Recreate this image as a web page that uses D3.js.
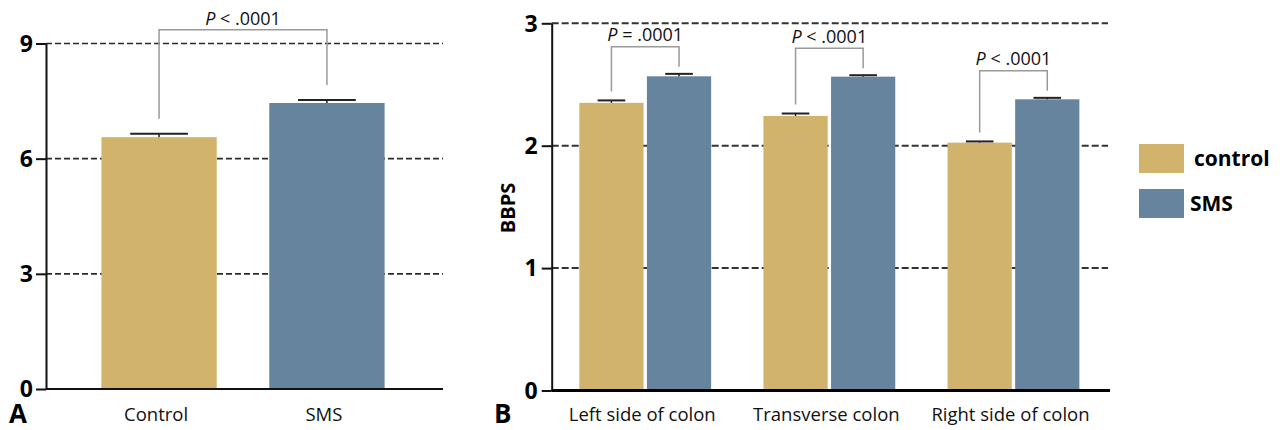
<!DOCTYPE html>
<html>
<head>
<meta charset="utf-8">
<script src="https://cdn.jsdelivr.net/npm/d3@7"></script>
<style>
  html, body { margin: 0; padding: 0; background: #fff; }
  svg { display: block; }
  text { font-family: "Open Sans", "Noto Sans", sans-serif; }
</style>
</head>
<body>
<svg id="chart" width="1280" height="430"></svg>
<script>
// ---------- data ----------
const catsA = ["Control", "SMS"];
const meansA = [6.56, 7.45];
const errA = [0.09, 0.08];
const ticksA = [0, 3, 6, 9];
const pLabelA = "P < .0001";

const catsB = ["Left side of colon", "Transverse colon", "Right side of colon"];
const seriesB = ["control", "SMS"];
const controlB = [2.35, 2.243, 2.025];
const smsB = [2.567, 2.564, 2.379];
const controlErrB = [0.02, 0.02, 0.01];
const smsErrB = [0.02, 0.012, 0.012];
const ticksB = [0, 1, 2, 3];
const pLabelsB = ["P = .0001", "P < .0001", "P < .0001"];

const colors = { control: "#d2b36c", SMS: "#67849f" };

const svg = d3.select("#chart");

function pText(sel, label, x, y) {
  const t = sel.append("text").attr("x", x).attr("y", y)
    .attr("text-anchor", "middle").attr("font-size", 18).attr("fill", "#111");
  const parts = label.split(" ");
  t.append("tspan").attr("font-style", "italic").text(parts[0]);
  t.append("tspan").text(" " + parts.slice(1).join(" "));
}

function styleAxis(ax) {
  ax.select(".domain").attr("stroke", "#111").attr("stroke-width", 2);
  ax.selectAll(".tick line").attr("stroke", "#111").attr("stroke-width", 2);
  ax.selectAll(".tick text").attr("font-size", 23).attr("font-weight", "bold").attr("fill", "#000")
    .attr("font-family", "'Open Sans', sans-serif").attr("dy", "0.34em");
}

// ================= Panel A =================
{
  const g = svg.append("g");
  const y = d3.scaleLinear().domain([0, 9]).range([389, 43.5]);
  const x = d3.scaleBand().domain(catsA).range([46, 440]).paddingInner(0.313).paddingOuter(0.33);
  const xL = 46, xR = 443;

  g.selectAll(".grid").data(ticksA.filter(d => d > 0)).join("line")
    .attr("x1", xL).attr("x2", xR).attr("y1", d => y(d)).attr("y2", d => y(d))
    .attr("stroke", "#2a2a2a").attr("stroke-width", 1.6).attr("stroke-dasharray", "6,3");

  const cols = [colors.control, colors.SMS];
  g.selectAll(".bar").data(catsA).join("rect")
    .attr("x", d => x(d)).attr("width", x.bandwidth())
    .attr("y", (d, i) => y(meansA[i])).attr("height", (d, i) => y(0) - y(meansA[i]))
    .attr("fill", (d, i) => cols[i]);

  const capW = x.bandwidth() * 0.5;
  catsA.forEach((c, i) => {
    const cx = x(c) + x.bandwidth() / 2;
    g.append("line").attr("x1", cx).attr("x2", cx).attr("y1", y(meansA[i])).attr("y2", y(meansA[i] + errA[i]))
      .attr("stroke", "#222").attr("stroke-width", 1.5);
    g.append("line").attr("x1", cx - capW / 2).attr("x2", cx + capW / 2)
      .attr("y1", y(meansA[i] + errA[i])).attr("y2", y(meansA[i] + errA[i]))
      .attr("stroke", "#222").attr("stroke-width", 2);
  });

  const ax = g.append("g").attr("transform", `translate(${xL},0)`)
    .call(d3.axisLeft(y).tickValues(ticksA).tickFormat(d3.format("d")).tickSize(10).tickSizeOuter(0).tickPadding(3));
  styleAxis(ax);

  g.append("line").attr("x1", xL).attr("x2", xR).attr("y1", y(0)).attr("y2", y(0))
    .attr("stroke", "#111").attr("stroke-width", 2);

  g.selectAll(".cat").data(catsA).join("text")
    .attr("x", d => x(d) + x.bandwidth() / 2 - 3).attr("y", 421)
    .attr("text-anchor", "middle").attr("font-size", 18.5).attr("fill", "#111").text(d => d);

  const x1 = x(catsA[0]) + x.bandwidth() / 2, x2 = x(catsA[1]) + x.bandwidth() / 2;
  const topY = 29.7;
  const leg1 = y(meansA[0] + errA[0]) - 15, leg2 = y(meansA[1] + errA[1]) - 15;
  g.append("path").attr("d", `M${x1},${leg1}V${topY}H${x2}V${leg2}`)
    .attr("fill", "none").attr("stroke", "#9a9a9a").attr("stroke-width", 1.5);
  pText(g, pLabelA, (x1 + x2) / 2, 25);

  g.append("text").attr("x", 9).attr("y", 423).attr("font-size", 26).attr("font-weight", "bold")
    .attr("font-family", "'Liberation Sans', Arial, sans-serif").attr("fill", "#000").text("A");
}

// ================= Panel B =================
{
  const g = svg.append("g");
  const y = d3.scaleLinear().domain([0, 3]).range([390.5, 23.3]);
  const x0 = d3.scaleBand().domain(catsB).range([551.7, 1107]).paddingInner(0.284).paddingOuter(0.15);
  const x1 = d3.scaleBand().domain(seriesB).range([0, x0.bandwidth()]).paddingInner(0.05);
  const xL = 551.7, xR = 1108;

  g.selectAll(".grid").data(ticksB.filter(d => d > 0)).join("line")
    .attr("x1", xL).attr("x2", xR).attr("y1", d => y(d)).attr("y2", d => y(d))
    .attr("stroke", "#333").attr("stroke-width", 2).attr("stroke-dasharray", "7,3");

  const rows = catsB.map((c, i) => ({
    cat: c,
    vals: [
      { s: "control", v: controlB[i], e: controlErrB[i] },
      { s: "SMS", v: smsB[i], e: smsErrB[i] }
    ]
  }));

  const grp = g.selectAll(".grp").data(rows).join("g")
    .attr("transform", d => `translate(${x0(d.cat)},0)`);
  grp.selectAll("rect").data(d => d.vals).join("rect")
    .attr("x", d => x1(d.s)).attr("width", x1.bandwidth())
    .attr("y", d => y(d.v)).attr("height", d => y(0) - y(d.v))
    .attr("fill", d => colors[d.s]);

  const capW = x1.bandwidth() * 0.43;
  grp.each(function (d) {
    const gg = d3.select(this);
    d.vals.forEach(v => {
      const cx = x1(v.s) + x1.bandwidth() / 2;
      gg.append("line").attr("x1", cx).attr("x2", cx).attr("y1", y(v.v)).attr("y2", y(v.v + v.e))
        .attr("stroke", "#222").attr("stroke-width", 1.5);
      gg.append("line").attr("x1", cx - capW / 2).attr("x2", cx + capW / 2)
        .attr("y1", y(v.v + v.e)).attr("y2", y(v.v + v.e))
        .attr("stroke", "#222").attr("stroke-width", 2);
    });
  });

  rows.forEach((r, i) => {
    const ca = x0(r.cat) + x1("control") + x1.bandwidth() / 2;
    const cb = x0(r.cat) + x1("SMS") + x1.bandwidth() / 2;
    const capA = y(r.vals[0].v + r.vals[0].e), capB = y(r.vals[1].v + r.vals[1].e);
    const topY = Math.min(capA, capB) - 27;
    g.append("path").attr("d", `M${ca},${capA - 9}V${topY}H${cb}V${capB - 7}`)
      .attr("fill", "none").attr("stroke", "#9a9a9a").attr("stroke-width", 1.5);
    pText(g, pLabelsB[i], (ca + cb) / 2, topY - 5.5);
  });

  const ax = g.append("g").attr("transform", `translate(${xL},0)`)
    .call(d3.axisLeft(y).tickValues(ticksB).tickFormat(d3.format("d")).tickSize(10).tickSizeOuter(0).tickPadding(4));
  styleAxis(ax);

  g.append("line").attr("x1", xL).attr("x2", 1110).attr("y1", y(0)).attr("y2", y(0))
    .attr("stroke", "#000").attr("stroke-width", 3);

  g.selectAll(".cat").data(catsB).join("text")
    .attr("x", d => x0(d) + x0.bandwidth() / 2 - 3).attr("y", 421)
    .attr("text-anchor", "middle").attr("font-size", 18.5).attr("fill", "#111").text(d => d);

  g.append("text").attr("transform", "translate(515,208) rotate(-90)")
    .attr("text-anchor", "middle").attr("font-size", 20).attr("font-weight", "bold")
    .attr("fill", "#000").text("BBPS");

  g.append("text").attr("x", 494).attr("y", 423).attr("font-size", 26).attr("font-weight", "bold")
    .attr("font-family", "'Liberation Sans', Arial, sans-serif").attr("fill", "#000").text("B");

  const leg = g.selectAll(".leg").data(seriesB).join("g")
    .attr("transform", (d, i) => `translate(1139,${144 + i * 45})`);
  leg.append("rect").attr("width", 45).attr("height", 29).attr("fill", d => colors[d]);
  leg.append("text").attr("x", (d, i) => i === 0 ? 55 : 51).attr("y", 22)
    .attr("font-size", 21).attr("font-weight", "bold").attr("fill", "#000").text(d => d);
}
</script>
</body>
</html>
